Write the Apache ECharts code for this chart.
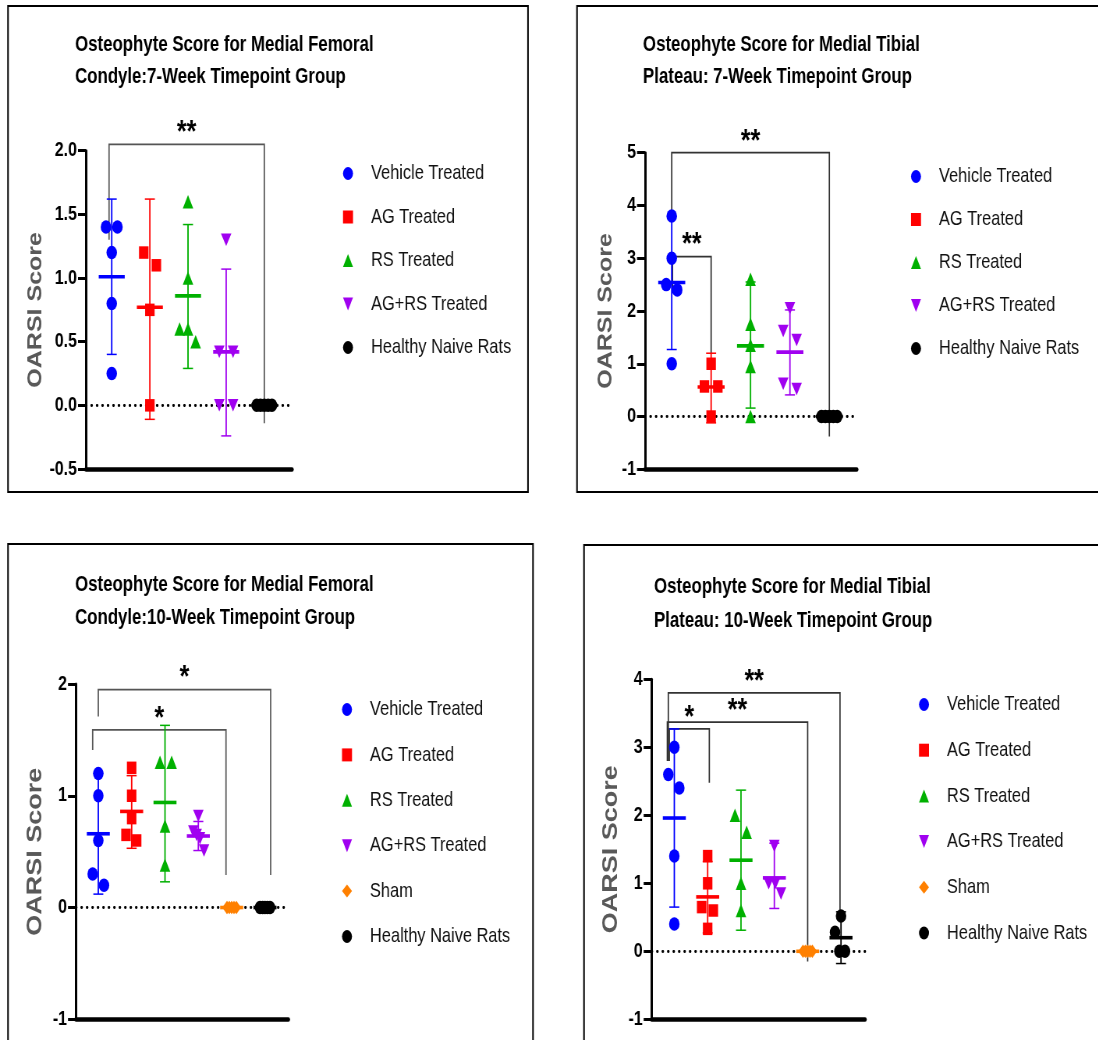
<!DOCTYPE html>
<html><head><meta charset="utf-8">
<script src="https://cdn.jsdelivr.net/npm/echarts@6/dist/echarts.min.js"></script>
<style>
html,body{margin:0;padding:0;background:#fff;width:1098px;height:1040px;overflow:hidden}
#c{width:1408px;height:1040px;transform:scaleX(0.78);transform-origin:0 0}
</style>
</head><body><div id="c"></div>
<script>
// ---------- DATA ----------
const groups7 = ['Vehicle Treated','AG Treated','RS Treated','AG+RS Treated','Healthy Naive Rats'];
const groups10 = ['Vehicle Treated','AG Treated','RS Treated','AG+RS Treated','Sham','Healthy Naive Rats'];

// Panel 1: Medial Femoral Condyle, 7-week  (points: [jitter, value])
const f7Title = 'Osteophyte Score for Medial Femoral\nCondyle:7-Week Timepoint Group';
const f7Points = [
  [[-0.15,1.4],[0.15,1.4],[0,1.2],[0,0.8],[0,0.25]],
  [[-0.16,1.2],[0.17,1.1],[0,0.75],[0,0]],
  [[0,1.6],[0,1.0],[-0.22,0.6],[0,0.6],[0.2,0.5]],
  [[0,1.3],[-0.18,0.42],[0.18,0.42],[-0.18,0],[0.18,0]],
  [[-0.2,0],[-0.1,0],[0,0],[0.1,0],[0.2,0]]
];
const f7Means = [1.01, 0.77, 0.86, 0.42, 0];
const f7Low   = [0.40, -0.11, 0.29, -0.24, 0];
const f7High  = [1.62, 1.62, 1.42, 1.07, 0];
const f7Brackets = [[-0.07, 4.0, 2.05, 1.3, -0.14]];
const f7Stars = ['**'];
const f7YTicks = [-0.5, 2.0, 0.5];

// Panel 2: Medial Tibial Plateau, 7-week
const t7Title = 'Osteophyte Score for Medial Tibial\nPlateau: 7-Week Timepoint Group';
const t7Points = [
  [[0,3.8],[0,3.0],[-0.14,2.5],[0.14,2.4],[0,1.0]],
  [[0,1.0],[-0.17,0.57],[0.17,0.57],[0,0]],
  [[0,2.6],[0,1.75],[0,1.35],[0,0.95],[0,0]],
  [[0,2.05],[-0.17,1.62],[0.17,1.45],[-0.17,0.62],[0.17,0.52]],
  [[-0.2,0],[-0.1,0],[0,0],[0.1,0],[0.2,0]]
];
const t7Means = [2.54, 0.56, 1.34, 1.22, 0];
const t7Low   = [1.27, -0.12, 0.16, 0.41, 0];
const t7High  = [3.79, 1.20, 2.55, 2.02, 0];
const t7Brackets = [[0, 4.0, 5.0, 3.8, -0.38], [0.02, 1.0, 3.03, 2.35, 1.2]];
const t7Stars = ['**', '**'];
const t7YTicks = [-1, 5, 1];

// Panel 3: Medial Femoral Condyle, 10-week
const f10Title = 'Osteophyte Score for Medial Femoral\nCondyle:10-Week Timepoint Group';
const f10Points = [
  [[0,1.2],[0,1.0],[0,0.6],[-0.17,0.3],[0.17,0.2]],
  [[0,1.25],[0,1.0],[0,0.8],[-0.17,0.65],[0.15,0.6]],
  [[-0.15,1.3],[0.2,1.3],[0,0.73],[0,0.38]],
  [[0,0.82],[-0.15,0.68],[-0.05,0.65],[0.05,0.62],[0.17,0.51]],
  [[-0.14,0],[-0.07,0],[0,0],[0.07,0],[0.14,0]],
  [[-0.15,0],[-0.07,0],[0,0],[0.07,0],[0.15,0]]
];
const f10Means = [0.66, 0.86, 0.94, 0.64, 0, 0];
const f10Low   = [0.12, 0.53, 0.23, 0.51, 0, 0];
const f10High  = [1.20, 1.18, 1.63, 0.77, 0, 0];
const f10Brackets = [[0, 5.17, 1.95, 1.71, 0.29], [-0.17, 3.83, 1.59, 1.41, 0.29]];
const f10Stars = ['*', '*'];
const f10YTicks = [-1, 2, 1];

// Panel 4: Medial Tibial Plateau, 10-week
const t10Title = 'Osteophyte Score for Medial Tibial\nPlateau: 10-Week Timepoint Group';
const t10Points = [
  [[0,3.0],[-0.18,2.6],[0.15,2.4],[0,1.4],[0,0.4]],
  [[0,1.4],[0,1.0],[-0.18,0.65],[0.17,0.6],[0,0.33]],
  [[-0.18,2.0],[0.17,1.75],[0,1.0],[0,0.6]],
  [[0,1.55],[-0.17,1.0],[0.03,1.0],[0.2,0.85]],
  [[-0.14,0],[-0.07,0],[0,0],[0.07,0],[0.14,0]],
  [[0,0.52],[-0.18,0.28],[-0.05,0],[0.12,0]]
];
const t10Means = [1.96, 0.80, 1.34, 1.08, 0, 0.20];
const t10Low   = [0.65, 0.27, 0.31, 0.63, 0, -0.18];
const t10High  = [3.27, 1.32, 2.37, 1.59, 0, 0.58];
const t10Brackets = [[-0.18, 4.97, 3.80, 2.8, 0.6], [-0.21, 4.0, 3.37, 2.8, -0.15], [-0.15, 1.05, 3.27, 2.8, 2.48]];
const t10Stars = ['**', '**', '*'];
const t10YTicks = [-1, 4, 1];

const yAxisName = 'OARSI Score';

// ---------- STYLE / LAYOUT ----------
// The page is drawn 1/SX wider and squeezed horizontally by SX (narrow, tall look of the original)
const SX = 0.78;
const X = v => v / SX;
const SANS = "'Liberation Sans', Arial, sans-serif";
const DOWN = 'path://M0,0L10,0L5,10Z';
const gstyle = {
  'Vehicle Treated':    {color:'#0000ff', symbol:'circle',   size:[X(10.5),13.5]},
  'AG Treated':         {color:'#ff0000', symbol:'rect',     size:[X(9.5),12.5]},
  'RS Treated':         {color:'#00b000', symbol:'triangle', size:[X(10.5),13.5]},
  'AG+RS Treated':      {color:'#a000f0', symbol:DOWN,       size:[X(10.5),12.5]},
  'Sham':               {color:'#ff8000', symbol:'diamond',  size:[X(9.5),13.5]},
  'Healthy Naive Rats': {color:'#000000', symbol:'circle',   size:[X(10.5),13.5]}
};

const panels = [
  {groups:groups7, points:f7Points, means:f7Means, lo:f7Low, hi:f7High, br:f7Brackets, stars:f7Stars, yt:f7YTicks, title:f7Title, dec:1,
   grid:{left:86, top:150.7, width:206, height:318.3}, xr:[-0.674, 4.726],
   legend:{cx:348, top:163, gap:23.5}, tpos:{left:75, top:29, lh:32}, nameGap:40, nameSize:25, meanHalf:13, capHalf:5, bc:'#555'},
  {groups:groups7, points:t7Points, means:t7Means, lo:t7Low, hi:t7High, br:t7Brackets, stars:t7Stars, yt:t7YTicks, title:t7Title, dec:0,
   grid:{left:645, top:152.7, width:211.7, height:316.6}, xr:[-0.678, 4.695],
   legend:{cx:916, top:166, gap:23}, tpos:{left:643, top:29, lh:32}, nameGap:29, nameSize:25, meanHalf:13.5, capHalf:5, bc:'#333'},
  {groups:groups10, points:f10Points, means:f10Means, lo:f10Low, hi:f10High, br:f10Brackets, stars:f10Stars, yt:f10YTicks, title:f10Title, dec:0,
   grid:{left:76, top:684, width:212.3, height:335.3}, xr:[-0.669, 5.699],
   legend:{cx:347, top:699, gap:25.4}, tpos:{left:75, top:569, lh:33}, nameGap:30, nameSize:27, meanHalf:11.5, capHalf:5, bc:'#555'},
  {groups:groups10, points:t10Points, means:t10Means, lo:t10Low, hi:t10High, br:t10Brackets, stars:t10Stars, yt:t10YTicks, title:t10Title, dec:0,
   grid:{left:651.7, top:679.3, width:213.3, height:340}, xr:[-0.678, 5.72],
   legend:{cx:924, top:694, gap:25.7}, tpos:{left:654, top:570, lh:34}, nameGap:30, nameSize:27, meanHalf:11.5, capHalf:5, bc:'#333'}
];

const border = {fill:'none', stroke:'#000', lineWidth:2};
const option = {
  animation:false, backgroundColor:'#fff',
  grid:[], xAxis:[], yAxis:[], title:[], legend:[], series:[],
  graphic:[
    {type:'rect', shape:{x:X(8), y:6, width:X(520), height:486}, style:border},
    {type:'rect', shape:{x:X(577), y:6, width:X(540), height:486}, style:border},
    {type:'rect', shape:{x:X(8), y:544, width:X(525), height:600}, style:border},
    {type:'rect', shape:{x:X(584), y:545, width:X(600), height:600}, style:border}
  ]
};

const LW = X(10), LH = 13;
panels.forEach((p, i) => {
  option.grid.push({left:X(p.grid.left), top:p.grid.top, width:X(p.grid.width), height:p.grid.height, containLabel:false});
  option.xAxis.push({type:'value', gridIndex:i, min:p.xr[0], max:p.xr[1],
    axisLine:{show:true, onZero:false, lineStyle:{color:'#000', width:4.5}},
    axisTick:{show:false}, axisLabel:{show:false}, splitLine:{show:false}});
  option.yAxis.push({type:'value', gridIndex:i, min:p.yt[0], max:p.yt[1], interval:p.yt[2],
    name:yAxisName, nameLocation:'middle', nameGap:X(p.nameGap), nameMoveOverlap:false,
    nameTextStyle:{fontFamily:SANS, fontWeight:'bold', fontSize:p.nameSize, color:'#595959'},
    axisLine:{show:true, onZero:false, lineStyle:{color:'#000', width:3}},
    axisTick:{show:true, length:X(8), lineStyle:{color:'#000', width:3}},
    axisLabel:{margin:X(9), fontFamily:SANS, fontWeight:'bold', fontSize:20.5, color:'#000',
      formatter: v => p.dec ? v.toFixed(p.dec) : String(v)},
    splitLine:{show:false}});
  option.title.push({text:p.title, left:X(p.tpos.left), top:p.tpos.top, padding:0,
    textStyle:{fontFamily:SANS, fontWeight:'bold', fontSize:21.6, lineHeight:p.tpos.lh, color:'#000'}});
  option.legend.push({left:X(p.legend.cx) - LW/2, top:p.legend.top, orient:'vertical', padding:0,
    itemWidth:LW, itemHeight:LH, itemGap:p.legend.gap - 1, symbolKeepAspect:false, selectedMode:false,
    data:p.groups.map(g => ({name:g, icon:gstyle[g].symbol})),
    formatter: n => '{s|}' + n,
    textStyle:{fontFamily:SANS, fontSize:21, color:'#111', lineHeight:21, rich:{s:{width:X(23) - LW/2 - 5}}}});
  // points
  p.groups.forEach((g, k) => {
    const s = {name:g, type:'scatter', xAxisIndex:i, yAxisIndex:i, silent:true,
      symbol:gstyle[g].symbol, symbolSize:gstyle[g].size, itemStyle:{color:gstyle[g].color, opacity:1},
      z:3, data:p.points[k].map(pt => [k + pt[0], pt[1]])};
    if (k === 0) {
      s.markLine = {silent:true, symbol:'none', label:{show:false}, z:1,
        lineStyle:{color:'#000', type:[0.5,6.5], width:2.8, cap:'round'}, data:[{yAxis:0}]};
    }
    option.series.push(s);
  });
  // mean + SD bars
  option.series.push({type:'custom', xAxisIndex:i, yAxisIndex:i, silent:true, z:4, clip:false,
    data:p.means.map((m, k) => [k, m, p.lo[k], p.hi[k]]),
    renderItem:(params, api) => {
      const k = params.dataIndex;
      const col = gstyle[p.groups[k]].color;
      const x = api.value(0);
      const pm = api.coord([x, api.value(1)]);
      const pl = api.coord([x, api.value(2)]);
      const ph = api.coord([x, api.value(3)]);
      const mh = X(p.meanHalf), chw = X(p.capHalf);
      const ch = [];
      if (api.value(3) > api.value(2)) {
        ch.push({type:'line', shape:{x1:pl[0], y1:pl[1], x2:ph[0], y2:ph[1]}, style:{stroke:col, lineWidth:1.8}});
        ch.push({type:'line', shape:{x1:pl[0]-chw, y1:pl[1], x2:pl[0]+chw, y2:pl[1]}, style:{stroke:col, lineWidth:1.5}});
        ch.push({type:'line', shape:{x1:ph[0]-chw, y1:ph[1], x2:ph[0]+chw, y2:ph[1]}, style:{stroke:col, lineWidth:1.5}});
      }
      ch.push({type:'line', shape:{x1:pm[0]-mh, y1:pm[1], x2:pm[0]+mh, y2:pm[1]}, style:{stroke:col, lineWidth:3.6}});
      return {type:'group', children:ch};
    }});
  // significance brackets
  option.series.push({type:'custom', xAxisIndex:i, yAxisIndex:i, silent:true, z:2, clip:false,
    data:p.br,
    renderItem:(params, api) => {
      const a = api.coord([api.value(0), api.value(2)]);
      const b = api.coord([api.value(1), api.value(2)]);
      const l = api.coord([api.value(0), api.value(3)]);
      const r = api.coord([api.value(1), api.value(4)]);
      return {type:'group', children:[
        {type:'polyline', shape:{points:[l, a, b, r]}, style:{stroke:p.bc, lineWidth:1.7, fill:'none'}},
        {type:'text', x:(a[0]+b[0])/2, y:a[1]-11, style:{text:p.stars[params.dataIndex], fill:'#000',
          fontFamily:SANS, fontWeight:'bold', fontSize:32, align:'center', verticalAlign:'middle'}}
      ]};
    }});
});

const chart = echarts.init(document.getElementById('c'), null, {renderer:'canvas'});
chart.setOption(option);
</script>
</body></html>
